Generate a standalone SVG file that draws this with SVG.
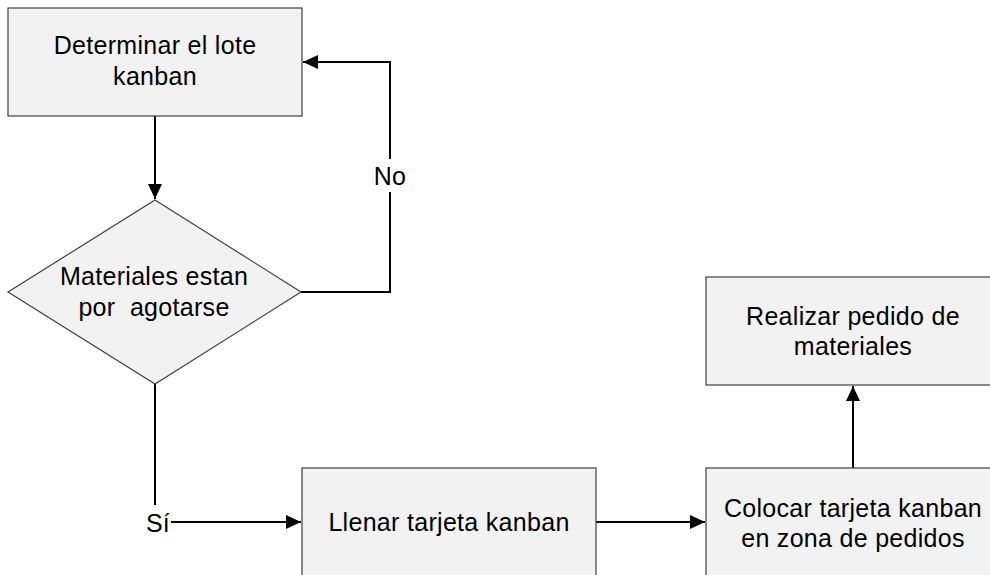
<svg xmlns="http://www.w3.org/2000/svg" width="990" height="575" viewBox="0 0 990 575">
  <style>
    .shape { fill: #f2f2f2; stroke: #404040; stroke-width: 1.2; }
    .label { font-family: "Liberation Sans", Arial, sans-serif; font-size: 25px; letter-spacing: 0.3px; fill: #000; text-anchor: middle; }
    .edge { fill: none; stroke: #000; stroke-width: 2; }
    .mask { fill: #fff; stroke: none; }
  </style>
  <defs>
    <marker id="arrow" markerUnits="userSpaceOnUse" markerWidth="16" markerHeight="15" refX="15" refY="7" orient="auto">
      <path d="M0,0 L15,7 L0,14 Z" fill="#000"/>
    </marker>
  </defs>

  <rect width="990" height="575" fill="#fff"/>

  <g id="connectors">
    <path class="edge" d="M155,116 V199" marker-end="url(#arrow)"/>
    <path class="edge" d="M301,292 H390 V62 H303" marker-end="url(#arrow)"/>
    <rect class="mask" x="374" y="159" width="32" height="33"/>
    <text class="label" x="390" y="185">No</text>
    <path class="edge" d="M155,384 V522 H301" marker-end="url(#arrow)"/>
    <rect class="mask" x="144" y="505" width="27" height="33"/>
    <text class="label" x="158" y="532">Sí</text>
    <path class="edge" d="M596,522 H705" marker-end="url(#arrow)"/>
    <path class="edge" d="M853,468 V386" marker-end="url(#arrow)"/>
  </g>

  <g id="determinar-lote">
    <rect class="shape" x="8" y="8" width="294" height="108"/>
    <text class="label" x="155" y="54">Determinar el lote</text>
    <text class="label" x="155" y="85">kanban</text>
  </g>

  <g id="materiales-agotarse">
    <polygon class="shape" points="155,200 301,292 155,384 8,292"/>
    <text class="label" x="154" y="285">Materiales estan</text>
    <text class="label" x="154" y="316" xml:space="preserve">por  agotarse</text>
  </g>

  <g id="llenar-tarjeta">
    <rect class="shape" x="302" y="468" width="294" height="108"/>
    <text class="label" x="449" y="531">Llenar tarjeta kanban</text>
  </g>

  <g id="colocar-tarjeta">
    <rect class="shape" x="706" y="468" width="294" height="108"/>
    <text class="label" x="853" y="517">Colocar tarjeta kanban</text>
    <text class="label" x="853" y="547">en zona de pedidos</text>
  </g>

  <g id="realizar-pedido">
    <rect class="shape" x="706" y="277" width="294" height="108"/>
    <text class="label" x="853" y="325">Realizar pedido de</text>
    <text class="label" x="853" y="355">materiales</text>
  </g>
</svg>
